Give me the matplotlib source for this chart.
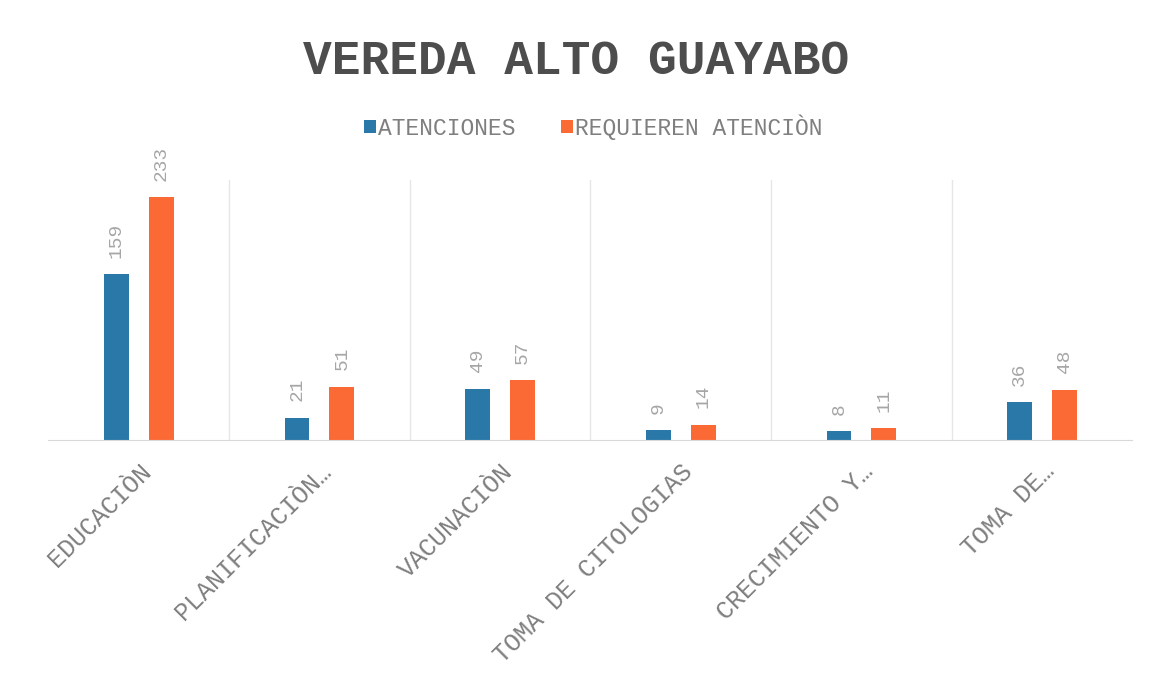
import numpy as np
import matplotlib.pyplot as plt

categorias = ["EDUCACIÒN", "PLANIFICACIÒN…", "VACUNACIÒN", "TOMA DE CITOLOGIAS",
              "CRECIMIENTO Y…", "TOMA DE…"]
atenciones = [159, 21, 49, 9, 8, 36]
requieren = [233, 51, 57, 14, 11, 48]

azul = "#2a78a8"
naranja = "#fb6a35"
fuente = "Liberation Mono"

fig = plt.figure(figsize=(11.52, 6.86), dpi=100)
ax = fig.add_axes([0.042, 0.359, 0.941, 0.379])

x = np.arange(len(categorias))
w = 0.138
b1 = ax.bar(x - 0.124, atenciones, w, color=azul, label="ATENCIONES")
b2 = ax.bar(x + 0.124, requieren, w, color=naranja, label="REQUIEREN ATENCIÒN")

for barras in (b1, b2):
    for r in barras:
        ax.annotate(str(int(r.get_height())), (r.get_x() + r.get_width() / 2, r.get_height()),
                    xytext=(0, 12), textcoords="offset points", rotation=90,
                    ha="center", va="bottom", fontsize=14, color="#a6a6a6", family=fuente)

ax.set_xlim(-0.5, len(categorias) - 0.5)
ax.set_ylim(0, 250)
ax.set_yticks([])
ax.set_xticks(x)
ax.set_xticklabels(categorias, rotation=45, ha="right", va="top", rotation_mode="anchor",
                   fontsize=18, color="#7f7f7f", family=fuente)
ax.tick_params(axis="x", length=0, pad=14)
for i in range(1, len(categorias)):
    ax.axvline(i - 0.5, color="#e6e6e6", lw=1, zorder=0)
for s in ["top", "left", "right"]:
    ax.spines[s].set_visible(False)
ax.spines["bottom"].set_color("#d9d9d9")

fig.text(0.5, 0.91, "VEREDA ALTO GUAYABO", ha="center", va="center", fontsize=34.5,
         fontweight="bold", color="#4d4d4d", family=fuente)
leg = fig.legend(loc="center", bbox_to_anchor=(0.515, 0.815), ncol=2, frameon=False,
                 prop={"family": fuente, "size": 16.5}, handlelength=0.5, handleheight=0.5,
                 handletextpad=0.1, columnspacing=2)
for t in leg.get_texts():
    t.set_color("#7f7f7f")

fig.savefig("out.png", dpi=100)
